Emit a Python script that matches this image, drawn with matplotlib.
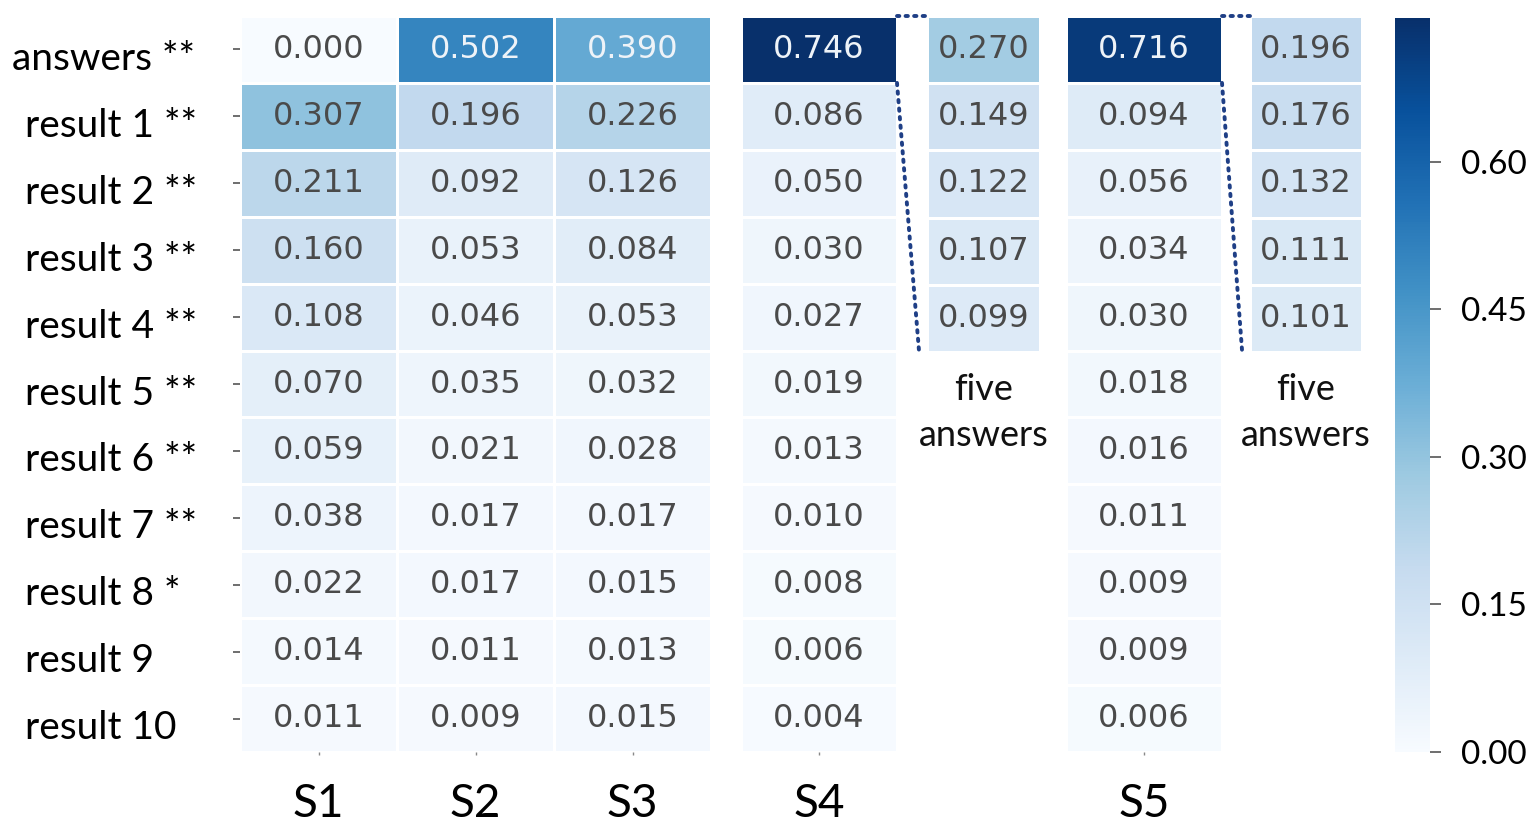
import numpy as np
import matplotlib
matplotlib.use("Agg")
import matplotlib.pyplot as plt
from matplotlib.colors import Normalize
from matplotlib.patches import ConnectionPatch
import matplotlib.transforms as mtransforms

# --- data ---
row_labels = ["answers **", "result 1 **", "result 2 **", "result 3 **", "result 4 **",
              "result 5 **", "result 6 **", "result 7 **", "result 8 *", "result 9", "result 10"]
col_labels_left = ["S1", "S2", "S3"]

s1 = [0.000, 0.307, 0.211, 0.160, 0.108, 0.070, 0.059, 0.038, 0.022, 0.014, 0.011]
s2 = [0.502, 0.196, 0.092, 0.053, 0.046, 0.035, 0.021, 0.017, 0.017, 0.011, 0.009]
s3 = [0.390, 0.226, 0.126, 0.084, 0.053, 0.032, 0.028, 0.017, 0.015, 0.013, 0.015]
s4 = [0.746, 0.086, 0.050, 0.030, 0.027, 0.019, 0.013, 0.010, 0.008, 0.006, 0.004]
s5 = [0.716, 0.094, 0.056, 0.034, 0.030, 0.018, 0.016, 0.011, 0.009, 0.009, 0.006]
s4_five = [0.270, 0.149, 0.122, 0.107, 0.099]
s5_five = [0.196, 0.176, 0.132, 0.111, 0.101]

cbar_ticks = [0.00, 0.15, 0.30, 0.45, 0.60]

FONT = "Lato"
cmap = plt.get_cmap("Blues")
norm = Normalize(vmin=0.0, vmax=max(s4))

W, H = 1526, 822
fig = plt.figure(figsize=(W / 100, H / 100), dpi=100)


def px_axes(x0, y0, x1, y1):
    # pixel box (top-left origin) -> figure axes
    return fig.add_axes([x0 / W, 1 - y1 / H, (x1 - x0) / W, (y1 - y0) / H])


def draw_block(ax, cols):
    arr = np.array(cols).T
    ax.pcolormesh(arr, cmap=cmap, norm=norm, edgecolors="white", linewidth=2.0)
    nrows, ncols = arr.shape
    for i in range(nrows):
        for j in range(ncols):
            v = arr[i, j]
            ax.text(j + 0.5, i + 0.5, f"{v:.3f}", ha="center", va="center",
                    fontsize=23, family="DejaVu Sans",
                    color="#eef3f8" if v > 0.35 else "#4a4a4a")
    ax.set_xlim(0, ncols)
    ax.set_ylim(nrows, 0)
    for sp in ax.spines.values():
        sp.set_visible(False)
    ax.tick_params(length=0)
    ax.set_xticks([])
    ax.set_yticks([])


# main blocks
ax1 = px_axes(240, 16, 711, 752)
draw_block(ax1, [s1, s2, s3])
ax4 = px_axes(741, 16, 897, 752)
draw_block(ax4, [s4])
ax4b = px_axes(927, 16, 1040, 352)
draw_block(ax4b, [s4_five])
ax5 = px_axes(1066, 16, 1222, 752)
draw_block(ax5, [s5])
ax5b = px_axes(1250, 16, 1362, 352)
draw_block(ax5b, [s5_five])

# y tick labels (left aligned, like the original)
ax1.set_yticks(np.arange(len(row_labels)) + 0.5)
ax1.set_yticklabels(row_labels, fontsize=28, family=FONT, ha="left")
ax1.tick_params(axis="y", length=5, width=1.2, color="#555555", pad=150)
for t in ax1.get_yticklabels():
    t.set_transform(t.get_transform() +
                    mtransforms.ScaledTranslation(0, -6 / 100, fig.dpi_scale_trans))
first = ax1.get_yticklabels()[0]
first.set_transform(first.get_transform() +
                    mtransforms.ScaledTranslation(-13 / 100, 0, fig.dpi_scale_trans))

# x tick labels
for ax, labels in [(ax1, col_labels_left), (ax4, ["S4"]), (ax5, ["S5"])]:
    ax.set_xticks(np.arange(len(labels)) + 0.5)
    ax.set_xticklabels(labels, fontsize=33, family=FONT)
    ax.tick_params(axis="x", length=2, width=1, color="#888888", pad=20)

# dotted connectors to the "five answers" columns
for big, small in [(ax4, ax4b), (ax5, ax5b)]:
    for xyA, xyB in [((1, 0), (0, 0)), ((1, 1), (-0.07, 5))]:
        con = ConnectionPatch(xyA=xyA, coordsA=big.transData, xyB=xyB, coordsB=small.transData,
                              linestyle=(0, (0.6, 1.6)), color="#1f3f86", linewidth=2.8,
                              capstyle="round")
        fig.add_artist(con)
    small.text(0.5, 5.9, "five\nanswers", transform=small.transData, ha="center", va="center",
               fontsize=26, family=FONT, linespacing=1.45, color="#111111")

# colorbar
cax = px_axes(1395, 18, 1430, 752)
sm = plt.cm.ScalarMappable(norm=norm, cmap=cmap)
cb = fig.colorbar(sm, cax=cax, ticks=cbar_ticks, format="%.2f")
cb.outline.set_visible(False)
cax.tick_params(length=8, width=1.2, color="#555555", pad=14)
for t in cax.get_yticklabels():
    t.set_fontsize(24)
    t.set_family(FONT)

fig.savefig("out.png", dpi=100, facecolor="white")
